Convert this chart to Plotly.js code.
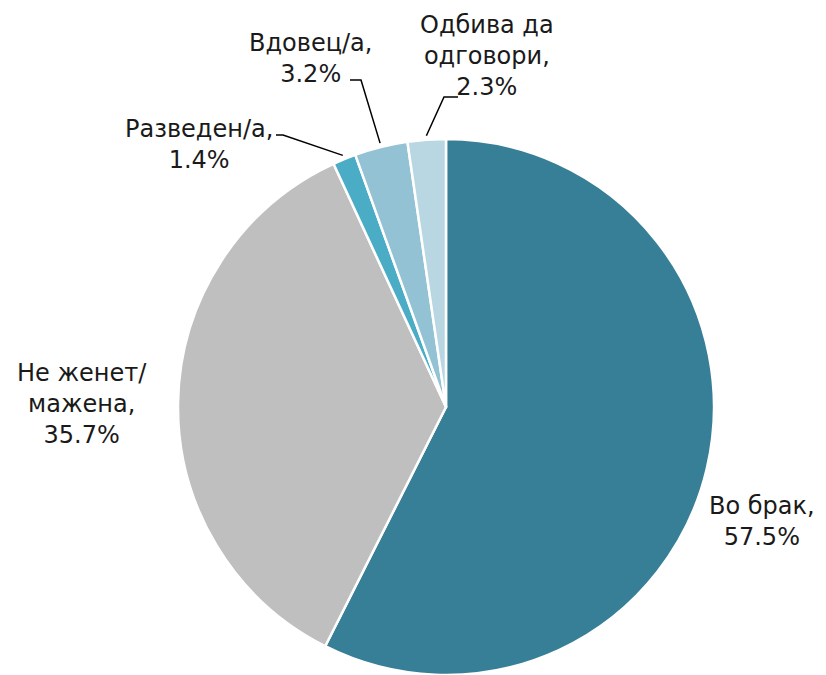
<!DOCTYPE html>
<html>
<head>
<meta charset="utf-8">
<script src="https://cdn.plot.ly/plotly-3.0.1.min.js"></script>
<style>
  html, body { margin: 0; padding: 0; background: #fff; }
  #gd { width: 826px; height: 675px; }
</style>
</head>
<body>
<div id="gd"></div>
<script>
// marital status shares (%)
var categories = ["Во брак", "Не женет/ мажена", "Разведен/а", "Вдовец/а", "Одбива да одговори"];
var shares = [57.5, 35.7, 1.4, 3.2, 2.3];
var sliceColors = ["#377f96", "#bfbfbf", "#4bacc6", "#92c2d4", "#b8d7e3"];
var labelTexts = ["Во брак,<br>57.5%", "Не женет/<br>мажена,<br>35.7%", "Разведен/а,<br>1.4%",
                  "Вдовец/а,<br>3.2%", "Одбива да<br>одговори,<br>2.3%"];

var W = 826, H = 675;
var cx = 446, cy = 407, R = 268;

function px(x) { return x / W; }
function py(y) { return 1 - y / H; }

// label anchor points (pixels) and the elbow of leader lines
var labelPos = [[762, 521], [82, 404], [199, 144], [310, 58], [487, 56]];
var elbows = [null, null, [[276, 135], [283, 135]], [[350, 80], [361, 80]], [[458, 97], [444, 97]]];

var total = shares.reduce(function (a, b) { return a + b; }, 0);
var annotations = [];
var shapes = [];
var cum = 0;
shares.forEach(function (v, i) {
  var mid = (cum + v / 2) / total * 2 * Math.PI;
  cum += v;
  annotations.push({
    xref: "paper", yref: "paper",
    x: px(labelPos[i][0]), y: py(labelPos[i][1]),
    text: labelTexts[i], showarrow: false,
    xanchor: "center", yanchor: "middle",
    font: { family: "'DejaVu Sans', sans-serif", size: 24, color: "#1a1a1a" }
  });
  if (elbows[i]) {
    var ex = cx + (R + 4) * Math.sin(mid);
    var ey = cy - (R + 4) * Math.cos(mid);
    var e = elbows[i];
    var path = "M" + px(e[0][0]) + "," + py(e[0][1]) +
               " L" + px(e[1][0]) + "," + py(e[1][1]) +
               " L" + px(ex) + "," + py(ey);
    shapes.push({ type: "path", xref: "paper", yref: "paper", path: path,
                  line: { color: "#000", width: 1.5 } });
  }
});

var data = [{
  type: "pie",
  labels: categories,
  values: shares,
  sort: false,
  direction: "clockwise",
  rotation: 0,
  textinfo: "none",
  hoverinfo: "label+percent",
  marker: { colors: sliceColors, line: { color: "#ffffff", width: 2.5 } },
  domain: { x: [px(cx - R), px(cx + R)], y: [py(cy + R), py(cy - R)] }
}];

var layout = {
  width: W, height: H,
  margin: { l: 0, r: 0, t: 0, b: 0 },
  showlegend: false,
  paper_bgcolor: "#ffffff",
  annotations: annotations,
  shapes: shapes
};

Plotly.newPlot("gd", data, layout, { displayModeBar: false, staticPlot: true });
</script>
</body>
</html>
